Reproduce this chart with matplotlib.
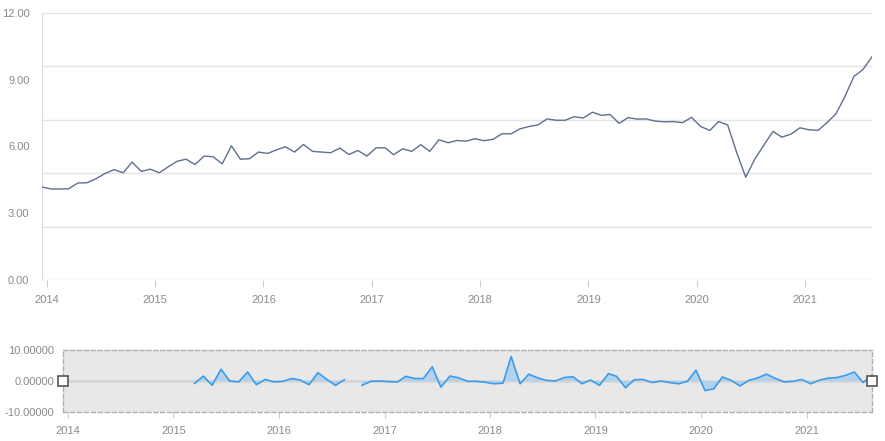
import numpy as np
import pandas as pd
import matplotlib
matplotlib.use("Agg")
import matplotlib.pyplot as plt
import matplotlib.dates as mdates

# -----------------------------
# 数据 (月度, 2013-12 ~ 2021-08)
# -----------------------------
dates = pd.date_range("2013-12-01", "2021-08-01", freq="MS") + pd.Timedelta(days=14)

main_values = [
    4.18,
    4.09, 4.09, 4.10, 4.36, 4.37, 4.55, 4.78, 4.96, 4.82, 5.30, 4.88, 4.98,
    4.82, 5.10, 5.33, 5.43, 5.19, 5.57, 5.54, 5.22, 6.03, 5.43, 5.45, 5.75,
    5.69, 5.85, 5.99, 5.75, 6.09, 5.78, 5.75, 5.72, 5.93, 5.64, 5.82, 5.57,
    5.94, 5.94, 5.63, 5.90, 5.78, 6.08, 5.78, 6.30, 6.17, 6.27, 6.24, 6.35,
    6.26, 6.33, 6.57, 6.57, 6.79, 6.90, 6.97, 7.24, 7.18, 7.18, 7.34, 7.28,
    7.54, 7.40, 7.44, 7.04, 7.30, 7.23, 7.24, 7.14, 7.11, 7.12, 7.07, 7.31,
    6.90, 6.72, 7.12, 6.97, 5.75, 4.62, 5.42, 6.06, 6.68, 6.42, 6.56, 6.84,
    6.75, 6.73, 7.06, 7.46, 8.23, 9.15, 9.45, 10.03,
]

# 下方缩略图的序列 (None = 无数据)
nav_values = [
    None,
    None, None, None, None, None, None, None, None, None, None, None, None,
    None, None, -0.8, 1.6, -1.4, 3.8, 0.0, -0.3, 2.9, -1.2, 0.5, -0.3,
    -0.1, 0.8, 0.3, -1.2, 2.7, 0.5, -1.4, 0.4, None, -1.4, -0.1, 0.0,
    -0.2, -0.3, 1.5, 0.8, 0.8, 4.6, -2.0, 1.6, 1.0, -0.1, -0.1, -0.4,
    -0.9, -0.7, 7.9, -0.9, 2.2, 1.0, 0.2, 0.0, 1.1, 1.4, -0.9, 0.3,
    -1.4, 2.4, 1.5, -2.2, 0.4, 0.5, -0.5, 0.0, -0.5, -0.9, -0.1, 3.5,
    -3.1, -2.5, 1.3, 0.2, -1.6, 0.2, 1.0, 2.2, 0.8, -0.3, -0.1, 0.5,
    -0.9, 0.3, 0.9, 1.1, 1.8, 2.9, -0.5, 1.9,
]

main_yticks = [0, 3, 6, 9, 12]
main_grid = [0, 2.4, 4.8, 7.2, 9.6, 12]
nav_yticks = [-10, 0, 10]
year_ticks = pd.to_datetime([f"{y}-01-01" for y in range(2014, 2022)])

nav = np.array([np.nan if v is None else v for v in nav_values], dtype=float)

# -----------------------------
# 样式
# -----------------------------
plt.rcParams["font.family"] = ["Liberation Sans", "DejaVu Sans"]
LABEL_COLOR = "#8a8a8a"
GRID_COLOR = "#e4e4e4"
LINE_COLOR = "#5f6f8f"
NAV_LINE = "#3d9be9"

W, H = 885, 441
fig = plt.figure(figsize=(W / 100, H / 100), dpi=100)

# -----------------------------
# 主图
# -----------------------------
ax = fig.add_axes([42 / W, 1 - 280 / H, (872 - 42) / W, (280 - 13) / H])
for g in main_grid:
    ax.axhline(g, color=GRID_COLOR, lw=1, zorder=0)
ax.plot(dates, main_values, color=LINE_COLOR, lw=1.0, zorder=3)
ax.set_xlim(dates[0], dates[-1])
ax.set_ylim(0, 12)
ax.set_yticks(main_yticks)
ax.set_yticklabels([f"{v:.2f}" for v in main_yticks])
ax.set_xticks(year_ticks)
ax.xaxis.set_major_formatter(mdates.DateFormatter("%Y"))
ax.tick_params(axis="y", length=0, pad=9, labelsize=8, labelcolor=LABEL_COLOR)
ax.tick_params(axis="x", length=5, color="#cccccc", pad=5.5, labelsize=8,
               labelcolor=LABEL_COLOR)
for s in ["top", "right", "bottom"]:
    ax.spines[s].set_visible(False)
ax.spines["left"].set_color("#dddddd")

# -----------------------------
# 缩略图 (dataZoom)
# -----------------------------
nx = fig.add_axes([63 / W, 1 - 412 / H, (872 - 63) / W, (412 - 350) / H])
nx.set_facecolor("#e8e8e8")
nx.axhline(0, color="#d6d6d6", lw=2, zorder=1)
nx.fill_between(dates, nav, 0, color="#a9cff2", alpha=0.85, lw=0, zorder=2)
nx.plot(dates, nav, color=NAV_LINE, lw=1.2, zorder=3)
nx.set_xlim(dates[0], dates[-1])
nx.set_ylim(-10, 10)
nx.set_yticks(nav_yticks)
nx.set_yticklabels([f"{v:.5f}" for v in nav_yticks])
nx.set_xticks(year_ticks)
nx.xaxis.set_major_formatter(mdates.DateFormatter("%Y"))
nx.tick_params(axis="y", length=0, pad=6.5, labelsize=8, labelcolor=LABEL_COLOR)
nx.tick_params(axis="x", length=4.5, color="#cccccc", pad=5.5, labelsize=8,
               labelcolor=LABEL_COLOR)
for s in nx.spines.values():
    s.set_linestyle((0, (3, 2)))
    s.set_color("#b0b0b0")
    s.set_linewidth(1)

# 左右手柄
nx.plot([0, 1], [0.5, 0.5], transform=nx.transAxes, ls="none", marker="s",
        ms=7, mfc="white", mec="#555555", mew=1.2, clip_on=False, zorder=5)

fig.savefig("out.png", dpi=100)
